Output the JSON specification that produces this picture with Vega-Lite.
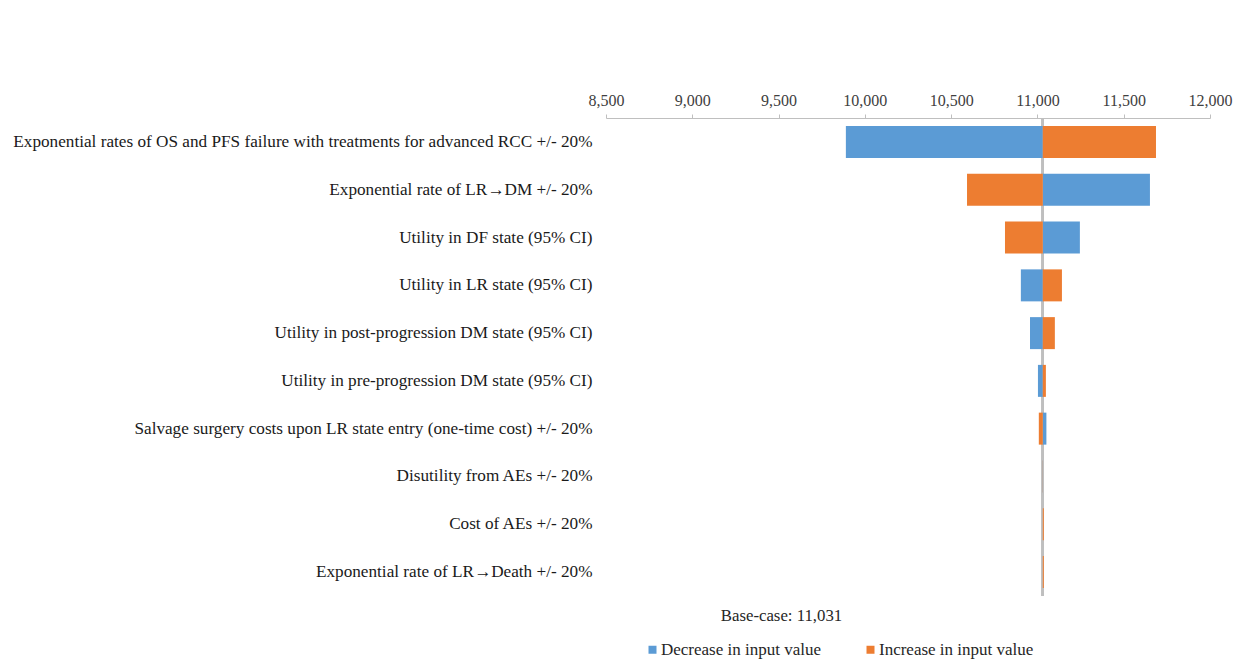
{
  "$schema": "https://vega.github.io/schema/vega-lite/v6.json",
  "autosize": {"type": "none"},
  "padding": {"left": 606, "top": 118, "right": 24, "bottom": 68},
  "width": 604,
  "height": 478,
  "background": "white",
  "config": {
    "view": {"stroke": null},
    "font": "Liberation Serif"
  },
  "data": {
    "values": [
      {"param": "Exponential rates of OS and PFS failure with treatments for advanced RCC +/- 20%", "case": "Decrease in input value", "value": 9890},
      {"param": "Exponential rates of OS and PFS failure with treatments for advanced RCC +/- 20%", "case": "Increase in input value", "value": 11687},
      {"param": "Exponential rate of LR→DM +/- 20%", "case": "Decrease in input value", "value": 11652},
      {"param": "Exponential rate of LR→DM +/- 20%", "case": "Increase in input value", "value": 10592},
      {"param": "Utility in DF state (95% CI)", "case": "Decrease in input value", "value": 11246},
      {"param": "Utility in DF state (95% CI)", "case": "Increase in input value", "value": 10812},
      {"param": "Utility in LR state (95% CI)", "case": "Decrease in input value", "value": 10904},
      {"param": "Utility in LR state (95% CI)", "case": "Increase in input value", "value": 11142},
      {"param": "Utility in post-progression DM state (95% CI)", "case": "Decrease in input value", "value": 10957},
      {"param": "Utility in post-progression DM state (95% CI)", "case": "Increase in input value", "value": 11101},
      {"param": "Utility in pre-progression DM state (95% CI)", "case": "Decrease in input value", "value": 11003},
      {"param": "Utility in pre-progression DM state (95% CI)", "case": "Increase in input value", "value": 11049},
      {"param": "Salvage surgery costs upon LR state entry (one-time cost) +/- 20%", "case": "Decrease in input value", "value": 11052},
      {"param": "Salvage surgery costs upon LR state entry (one-time cost) +/- 20%", "case": "Increase in input value", "value": 11008},
      {"param": "Disutility from AEs +/- 20%", "case": "Decrease in input value", "value": 11032},
      {"param": "Disutility from AEs +/- 20%", "case": "Increase in input value", "value": 11030},
      {"param": "Cost of AEs +/- 20%", "case": "Decrease in input value", "value": 11031},
      {"param": "Cost of AEs +/- 20%", "case": "Increase in input value", "value": 11037},
      {"param": "Exponential rate of LR→Death +/- 20%", "case": "Decrease in input value", "value": 11031},
      {"param": "Exponential rate of LR→Death +/- 20%", "case": "Increase in input value", "value": 11037}
    ]
  },
  "resolve": {"axis": {"x": "independent"}},
  "layer": [
    {
      "mark": {"type": "rule", "color": "#BFBFBF", "strokeWidth": 2},
      "encoding": {
        "x": {
          "datum": 11031,
          "type": "quantitative",
          "axis": {
            "orient": "bottom",
            "title": "Base-case: 11,031",
            "titleFont": "Liberation Serif",
            "titleFontSize": 16.8,
            "titleFontWeight": "normal",
            "titleColor": "#262626",
            "titleX": 175,
            "titleY": 28,
            "titleAlign": "center",
            "titleBaseline": "bottom",
            "labels": false,
            "ticks": false,
            "domain": false,
            "grid": false
          }
        }
      }
    },
    {
      "mark": {"type": "bar"},
      "encoding": {
        "y": {
          "field": "param",
          "type": "nominal",
          "sort": null,
          "scale": {"paddingInner": 0.33, "paddingOuter": 0.17},
          "axis": {
            "title": null,
            "domain": false,
            "ticks": false,
            "labelPadding": 14,
            "labelFont": "Liberation Serif",
            "labelFontSize": 17.2,
            "labelColor": "#1a1a1a",
            "labelLimit": 700
          }
        },
        "x": {
          "field": "value",
          "type": "quantitative",
          "scale": {"domain": [8500, 12000], "nice": false, "zero": false},
          "axis": {
            "orient": "top",
            "title": null,
            "values": [8500, 9000, 9500, 10000, 10500, 11000, 11500, 12000],
            "format": ",d",
            "labelFont": "Liberation Serif",
            "labelFontSize": 16,
            "labelColor": "#404040",
            "labelPadding": 6,
            "tickSize": 4,
            "tickColor": "#BFBFBF",
            "domainColor": "#BFBFBF",
            "gridColor": "#C8C8C8",
            "gridDash": [2, 3],
            "labelFlush": false
          }
        },
        "x2": {"datum": 11031},
        "color": {
          "field": "case",
          "type": "nominal",
          "scale": {
            "domain": ["Decrease in input value", "Increase in input value"],
            "range": ["#5B9BD5", "#ED7D31"]
          },
          "legend": {
            "title": null,
            "orient": "none",
            "direction": "horizontal",
            "legendX": 38,
            "legendY": 523,
            "symbolType": "square",
            "symbolSize": 64,
            "symbolStrokeWidth": 0,
            "labelFont": "Liberation Serif",
            "labelFontSize": 17,
            "labelColor": "#262626",
            "labelOffset": 0,
            "columnPadding": 40,
            "labelLimit": 300
          }
        }
      }
    }
  ]
}
